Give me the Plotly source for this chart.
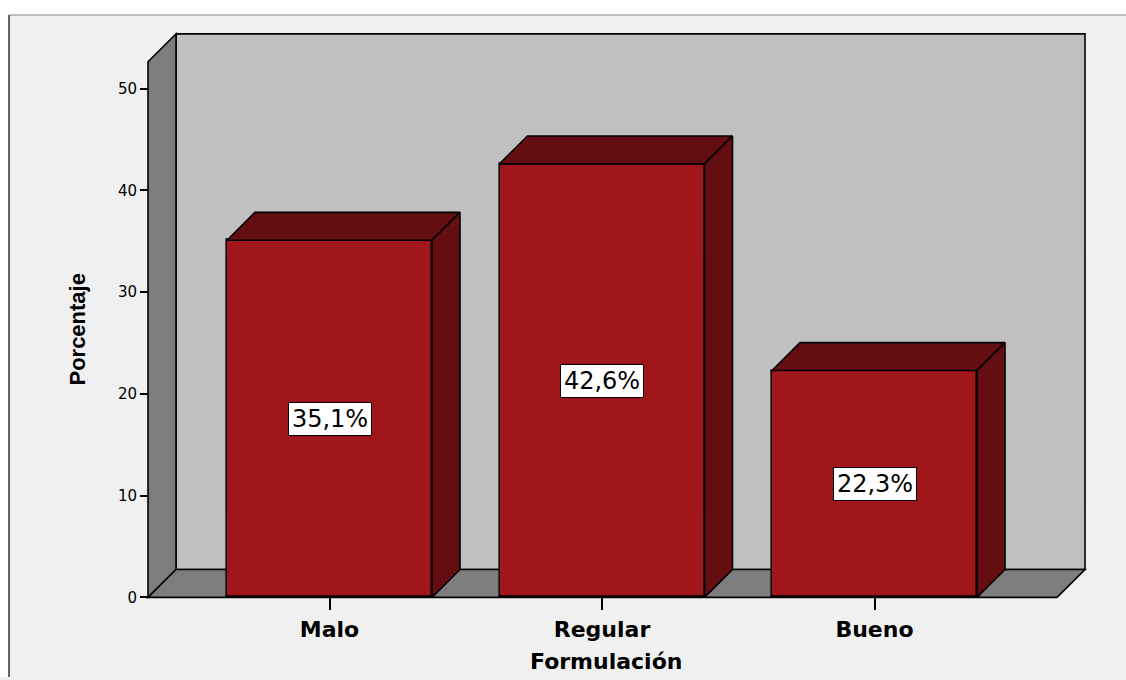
import plotly.graph_objects as go

# ---- data ----
categories = ["Malo", "Regular", "Bueno"]
percentages = [35.1, 42.6, 22.3]
value_labels = ["35,1%", "42,6%", "22,3%"]
y_ticks = [0, 10, 20, 30, 40, 50]
x_title = "Formulación"
y_title = "Porcentaje"

# ---- geometry / style ----
W, H = 1126, 680
S = 272.5          # px per category
C0 = 329.5         # px of first category centre
K = 10.22          # px per percent
Y0 = 600.0         # px of zero line
DEPTH_PX = 28
DX = DEPTH_PX / S
DY = DEPTH_PX / K
BAR_W = 205 / S
X_LEFT = (148 - C0) / S
X_RIGHT_FRONT = (1057 - C0) / S
WALL_TOP = (600 - 62) / K

FRONT = "#a1161b"
DARK = "#650e11"
WALL_SIDE = "#7d7d7d"
WALL_BACK = "#c0c0c0"
EDGE = "black"

def px2x(p):
    return (p - C0) / S

def px2y(p):
    return (Y0 - p) / K

dom_x = [140, 1092]
dom_y = [26, 606]

fig = go.Figure()

def poly_path(xs, ys):
    return "M " + " L ".join(f"{x},{y}" for x, y in zip(xs, ys)) + " Z"

def wall(xs, ys, fill):
    return dict(type="path", xref="x", yref="y", path=poly_path(xs, ys),
                fillcolor=fill, line=dict(color=EDGE, width=1.6), layer="below")

def poly(xs, ys, fill):
    fig.add_trace(go.Scatter(
        x=xs + [xs[0]], y=ys + [ys[0]], mode="lines", fill="toself",
        fillcolor=fill, line=dict(color=EDGE, width=1.6),
        hoverinfo="skip", showlegend=False))

walls = [
    # back wall
    wall([X_LEFT + DX, X_RIGHT_FRONT + DX, X_RIGHT_FRONT + DX, X_LEFT + DX],
         [DY, DY, WALL_TOP + DY, WALL_TOP + DY], WALL_BACK),
    # left wall
    wall([X_LEFT, X_LEFT, X_LEFT + DX, X_LEFT + DX],
         [0, WALL_TOP, WALL_TOP + DY, DY], WALL_SIDE),
    # floor
    wall([X_LEFT, X_RIGHT_FRONT, X_RIGHT_FRONT + DX, X_LEFT + DX],
         [0, 0, DY, DY], WALL_SIDE),
]

xs = list(range(len(categories)))
# front faces
fig.add_trace(go.Bar(
    x=xs, y=percentages, width=BAR_W,
    marker=dict(color=FRONT, line=dict(color=EDGE, width=1.6)),
    hoverinfo="skip", showlegend=False))

for i, v in zip(xs, percentages):
    l, r = i - BAR_W / 2, i + BAR_W / 2
    poly([l, l + DX, r + DX, r], [v, v + DY, v + DY, v], DARK)
    poly([r, r, r + DX, r + DX], [0, v, v + DY, DY], DARK)

annotations = []
for i, v, t in zip(xs, percentages, value_labels):
    annotations.append(dict(
        x=i, y=v / 2, xref="x", yref="y", text=t, showarrow=False,
        font=dict(family="DejaVu Sans", size=24, color="black"),
        bgcolor="white", bordercolor="black", borderwidth=1, borderpad=1,
        width=80, height=30, xanchor="center", yanchor="middle"))

annotations.append(dict(
    x=606 / W, y=1 - 664 / H, xref="paper", yref="paper", text=x_title,
    showarrow=False, font=dict(family="DejaVu Sans", size=22, color="black", weight="bold"),
    xanchor="center", yanchor="middle"))
annotations.append(dict(
    x=78 / W, y=1 - 331 / H, xref="paper", yref="paper", text=y_title,
    showarrow=False, textangle=-90,
    font=dict(family="Liberation Sans", size=22, color="black", weight="bold"),
    xanchor="center", yanchor="middle"))

shapes = [
    dict(type="rect", xref="paper", yref="paper", x0=0, x1=1, y0=1 - 15 / H, y1=1,
         fillcolor="white", line=dict(width=0), layer="below"),
    dict(type="rect", xref="paper", yref="paper", x0=0, x1=9 / W, y0=0, y1=1,
         fillcolor="white", line=dict(width=0), layer="below"),
    dict(type="line", xref="paper", yref="paper", x0=9 / W, x1=1, y0=1 - 15 / H, y1=1 - 15 / H,
         line=dict(color="#a8a8a8", width=1.5)),
    dict(type="line", xref="paper", yref="paper", x0=9 / W, x1=9 / W, y0=0, y1=1 - 15 / H,
         line=dict(color="#333333", width=1.5)),
] + walls

fig.update_layout(
    width=W, height=H, margin=dict(l=0, r=0, t=0, b=0),
    paper_bgcolor="#f0f0f0", plot_bgcolor="rgba(0,0,0,0)",
    barmode="overlay", bargap=0,
    annotations=annotations, shapes=shapes,
    xaxis=dict(
        domain=[dom_x[0] / W, dom_x[1] / W],
        range=[px2x(dom_x[0]), px2x(dom_x[1])],
        anchor="free", position=1 - Y0 / H,
        tickmode="array", tickvals=xs, ticktext=categories,
        ticks="outside", ticklen=12, tickwidth=1.5, tickcolor="black",
        tickfont=dict(family="DejaVu Sans", size=22, color="black", weight="bold"),
        showgrid=False, zeroline=False, showline=False, fixedrange=True),
    yaxis=dict(
        domain=[1 - dom_y[1] / H, 1 - dom_y[0] / H],
        range=[px2y(dom_y[1]), px2y(dom_y[0])],
        anchor="free", position=148 / W,
        tickmode="array", tickvals=y_ticks, ticktext=[str(t) for t in y_ticks],
        ticks="outside", ticklen=8, tickwidth=1.5, tickcolor="black",
        tickfont=dict(family="DejaVu Sans", size=15, color="black"),
        showgrid=False, zeroline=False, showline=False, fixedrange=True),
)

fig.write_html("out.html")
